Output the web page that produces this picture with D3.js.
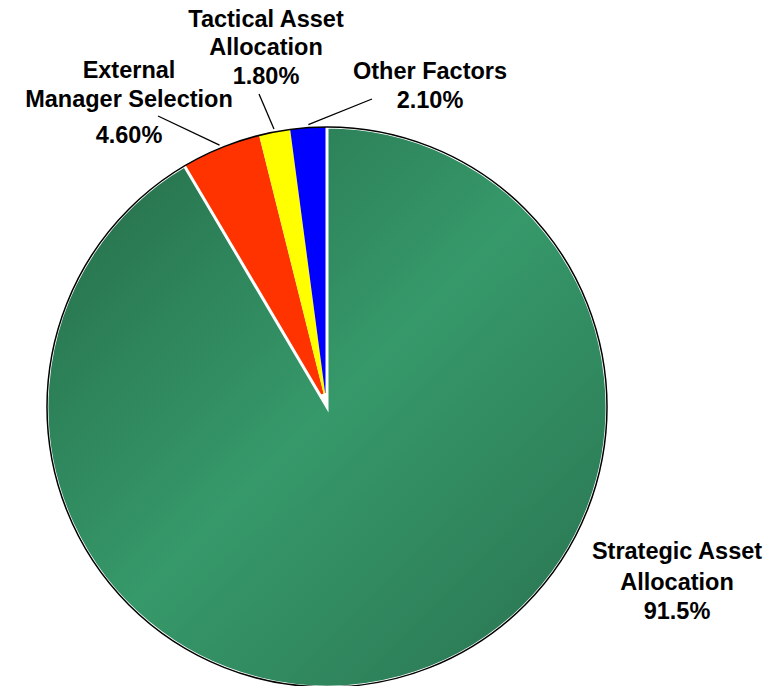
<!DOCTYPE html>
<meta charset="utf-8">
<style>
body { margin: 0; background: #fff; }
svg { display: block; }
.lbl { font-family: "Liberation Sans", Arial, sans-serif; font-weight: bold; font-size: 23.5px; fill: #000; }
</style>
<svg width="781" height="686"></svg>
<script src="https://cdnjs.cloudflare.com/ajax/libs/d3/7.8.5/d3.min.js"></script>
<script>
// data
var categories = ["Strategic Asset Allocation", "External Manager Selection", "Tactical Asset Allocation", "Other Factors"];
var values = [91.5, 4.6, 1.8, 2.1];
var pctLabels = ["91.5%", "4.60%", "1.80%", "2.10%"];
var sliceColors = ["url(#greenGrad)", "#ff3300", "#ffff00", "#0000ff"];

// label text lines (as shown in the chart)
var labelLines = [
  ["Strategic Asset", "Allocation", "91.5%"],
  ["External", "Manager Selection", "4.60%"],
  ["Tactical Asset", "Allocation", "1.80%"],
  ["Other Factors", "2.10%"]
];

var svg = d3.select("svg"),
    cx = 327, cy = 407, radius = 280;

// gradient is in the slice group's own coords (centred on 0,0)
var defs = svg.append("defs");
var grad = defs.append("linearGradient")
    .attr("id", "greenGrad")
    .attr("gradientUnits", "userSpaceOnUse")
    .attr("x1", -radius).attr("y1", -radius)
    .attr("x2", radius).attr("y2", radius);
grad.append("stop").attr("offset", 0).attr("stop-color", "#246a48");
grad.append("stop").attr("offset", 0.5).attr("stop-color", "#36996a");
grad.append("stop").attr("offset", 1).attr("stop-color", "#297250");

var data = categories.map(function(c, i) { return {name: c, value: values[i], pct: pctLabels[i], color: sliceColors[i], lines: labelLines[i]}; });

var pie = d3.pie().sort(null).value(function(d) { return d.value; });
var arcs = pie(data);

var g = svg.append("g").attr("transform", "translate(" + cx + "," + cy + ")");

var arcBig = d3.arc().innerRadius(0).outerRadius(radius);
var arcSmall = d3.arc().innerRadius(14).outerRadius(radius);

g.selectAll("path.slice")
  .data(arcs)
  .enter().append("path")
    .attr("class", "slice")
    .attr("d", function(d, i) { return i === 0 ? arcBig(d) : arcSmall(d); })
    .attr("fill", function(d) { return d.data.color; });

// white edges of the big slice
g.append("path")
    .attr("d", arcBig(arcs[0]))
    .attr("fill", "none")
    .attr("stroke", "#fff")
    .attr("stroke-width", 3)
    .attr("stroke-linejoin", "miter")
    .attr("stroke-miterlimit", 10);

// black outer rim
g.append("circle")
    .attr("r", radius)
    .attr("fill", "none")
    .attr("stroke", "#000")
    .attr("stroke-width", 1.5);

// label placement (center x, first baseline, line gaps) and leader-line ends
var labelPos = [
  {x: 677, y: 559, gaps: [31, 29], lead: null},
  {x: 129, y: 78, gaps: [28.5, 36.5], lead: [158, 116]},
  {x: 266, y: 27, gaps: [28.3, 28.3], lead: [259, 94]},
  {x: 430, y: 79, gaps: [29], lead: [372, 99]}
];

var rimArc = d3.arc().innerRadius(radius + 3).outerRadius(radius + 3);

arcs.forEach(function(a, i) {
  var p = labelPos[i];
  var t = svg.append("text").attr("class", "lbl").attr("text-anchor", "middle");
  var yy = p.y;
  a.data.lines.forEach(function(line, j) {
    if (j > 0) yy += p.gaps[j - 1];
    t.append("tspan").attr("x", p.x).attr("y", yy).text(line);
  });
  if (p.lead) {
    var c = rimArc.centroid(a);
    svg.append("line")
      .attr("x1", p.lead[0]).attr("y1", p.lead[1])
      .attr("x2", cx + c[0]).attr("y2", cy + c[1])
      .attr("stroke", "#000")
      .attr("stroke-width", 1.3);
  }
});
</script>
